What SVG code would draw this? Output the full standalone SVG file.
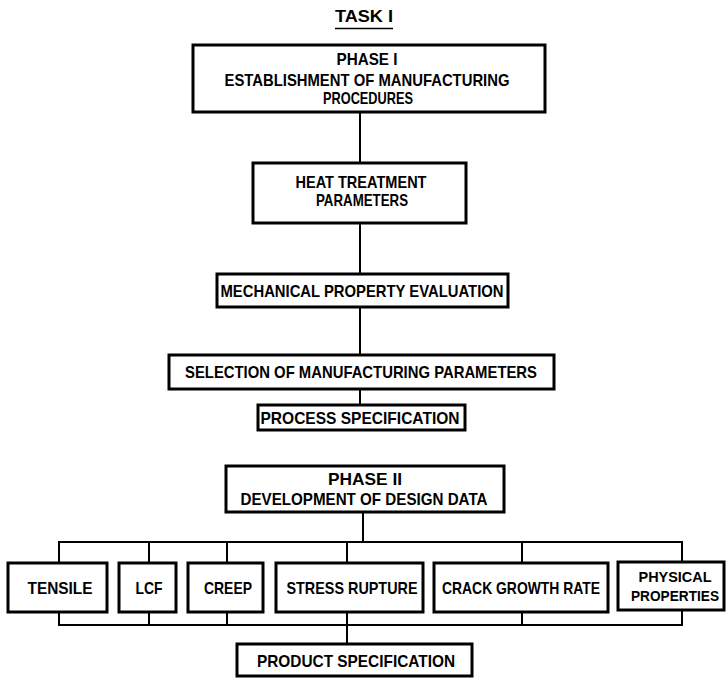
<svg xmlns="http://www.w3.org/2000/svg" width="727" height="678" viewBox="0 0 727 678">
<style>
  .box { fill: #fff; stroke: #000; stroke-width: 3; }
  .ln { fill: none; stroke: #000; stroke-width: 2; }
  text { font-family: "Liberation Sans", Arial, sans-serif; font-weight: bold; font-size: 17px; fill: #000; text-anchor: middle; }
  .sm { font-size: 15px; }
</style>
<rect width="727" height="678" fill="#fff"/>
<g id="title">
  <text x="364" y="22" textLength="58" lengthAdjust="spacingAndGlyphs">TASK I</text>
  <line x1="335" y1="28.5" x2="393" y2="28.5" stroke="#000" stroke-width="1.5"/>
</g>
<g id="connectors">
  <line class="ln" x1="360" y1="112" x2="360" y2="163"/>
  <line class="ln" x1="360" y1="223" x2="360" y2="274"/>
  <line class="ln" x1="360" y1="307" x2="360" y2="355"/>
  <line class="ln" x1="360" y1="389" x2="360" y2="405"/>
  <line class="ln" x1="363" y1="512" x2="363" y2="542"/>
  <polyline class="ln" points="59,563 59,542 682,542 682,562"/>
  <line class="ln" x1="149" y1="542" x2="149" y2="563"/>
  <line class="ln" x1="227" y1="542" x2="227" y2="563"/>
  <line class="ln" x1="347" y1="542" x2="347" y2="563"/>
  <line class="ln" x1="522" y1="542" x2="522" y2="563"/>
  <polyline class="ln" points="59,612 59,625 682,625 682,610"/>
  <line class="ln" x1="149" y1="612" x2="149" y2="625"/>
  <line class="ln" x1="227" y1="612" x2="227" y2="625"/>
  <line class="ln" x1="347" y1="612" x2="347" y2="644"/>
  <line class="ln" x1="522" y1="612" x2="522" y2="625"/>
</g>
<g id="phase1">
  <rect class="box" x="193" y="45" width="352" height="67"/>
  <text x="367" y="65" textLength="61" lengthAdjust="spacingAndGlyphs">PHASE I</text>
  <text x="367" y="86" textLength="285" lengthAdjust="spacingAndGlyphs">ESTABLISHMENT OF MANUFACTURING</text>
  <text x="368" y="104" textLength="90" lengthAdjust="spacingAndGlyphs">PROCEDURES</text>
</g>
<g id="heat">
  <rect class="box" x="253" y="163" width="213" height="60"/>
  <text x="361" y="188" textLength="131" lengthAdjust="spacingAndGlyphs">HEAT TREATMENT</text>
  <text x="362" y="206" textLength="92" lengthAdjust="spacingAndGlyphs">PARAMETERS</text>
</g>
<g id="mech">
  <rect class="box" x="217" y="274" width="291" height="33"/>
  <text x="362" y="297" textLength="283" lengthAdjust="spacingAndGlyphs">MECHANICAL PROPERTY EVALUATION</text>
</g>
<g id="selection">
  <rect class="box" x="169" y="355" width="385" height="34"/>
  <text x="361" y="378" textLength="352" lengthAdjust="spacingAndGlyphs">SELECTION OF MANUFACTURING PARAMETERS</text>
</g>
<g id="process">
  <rect class="box" x="258" y="405" width="207" height="25"/>
  <text x="360" y="424" textLength="199" lengthAdjust="spacingAndGlyphs">PROCESS SPECIFICATION</text>
</g>
<g id="phase2">
  <rect class="box" x="226" y="466" width="278" height="46"/>
  <text x="365" y="485" textLength="74" lengthAdjust="spacingAndGlyphs">PHASE II</text>
  <text x="364" y="505" textLength="247" lengthAdjust="spacingAndGlyphs">DEVELOPMENT OF DESIGN DATA</text>
</g>
<g id="tensile">
  <rect class="box" x="8" y="563" width="99" height="49"/>
  <text x="60" y="594" textLength="65" lengthAdjust="spacingAndGlyphs">TENSILE</text>
</g>
<g id="lcf">
  <rect class="box" x="119" y="563" width="57" height="49"/>
  <text x="149" y="594" textLength="27" lengthAdjust="spacingAndGlyphs">LCF</text>
</g>
<g id="creep">
  <rect class="box" x="188" y="563" width="75" height="49"/>
  <text x="228" y="594" textLength="48" lengthAdjust="spacingAndGlyphs">CREEP</text>
</g>
<g id="stress">
  <rect class="box" x="276" y="563" width="147" height="49"/>
  <text x="352" y="594" textLength="131" lengthAdjust="spacingAndGlyphs">STRESS RUPTURE</text>
</g>
<g id="crack">
  <rect class="box" x="434" y="563" width="174" height="49"/>
  <text x="521" y="594" textLength="158" lengthAdjust="spacingAndGlyphs">CRACK GROWTH RATE</text>
</g>
<g id="physical">
  <rect class="box" x="618" y="562" width="106" height="48"/>
  <text class="sm" x="675" y="582" textLength="73" lengthAdjust="spacingAndGlyphs">PHYSICAL</text>
  <text class="sm" x="675" y="601" textLength="88" lengthAdjust="spacingAndGlyphs">PROPERTIES</text>
</g>
<g id="product">
  <rect class="box" x="237" y="644" width="235" height="32"/>
  <text x="356" y="667" textLength="198" lengthAdjust="spacingAndGlyphs">PRODUCT SPECIFICATION</text>
</g>
</svg>
